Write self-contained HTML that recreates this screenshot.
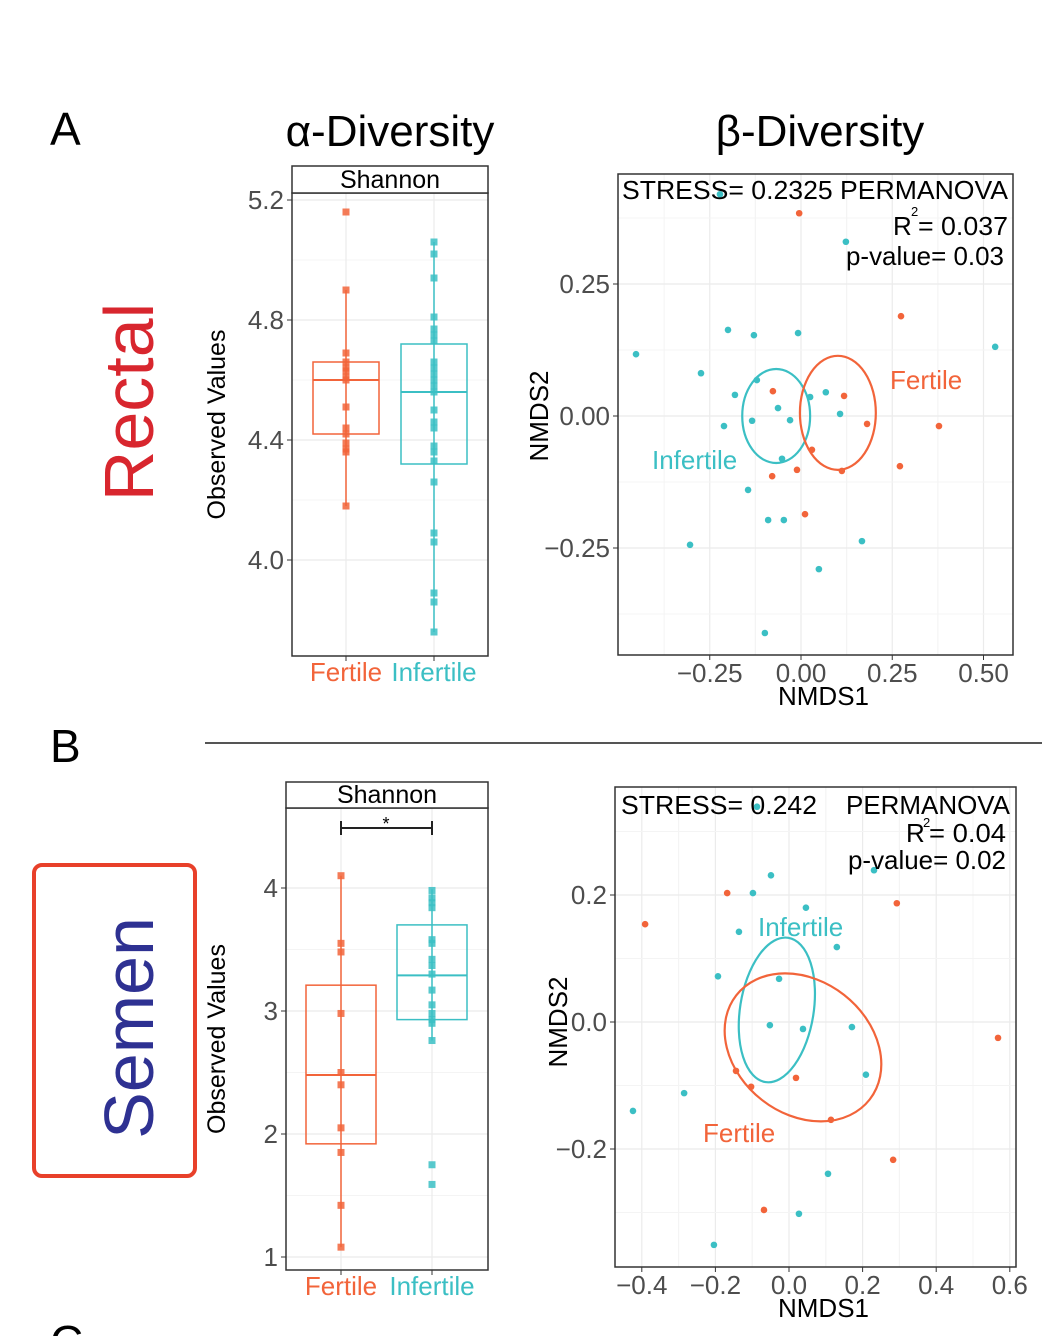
<!DOCTYPE html>
<html><head><meta charset="utf-8"><style>
html,body{margin:0;padding:0;background:#fff;}
svg{display:block;font-family:"Liberation Sans",sans-serif;}
</style></head><body>
<svg id="fig" width="1042" height="1336" viewBox="0 0 1042 1336" xmlns="http://www.w3.org/2000/svg">
<text x="50" y="145" font-size="46">A</text>
<text x="390" y="146" font-size="44" text-anchor="middle">α-Diversity</text>
<text x="820" y="146" font-size="44" text-anchor="middle">β-Diversity</text>
<text transform="translate(153,402) rotate(-90)" font-size="70" fill="#d8262e" text-anchor="middle">Rectal</text>
<text x="50" y="762" font-size="46">B</text>
<line x1="205" y1="743" x2="1042" y2="743" stroke="#555" stroke-width="2"/>
<rect x="34" y="865" width="161" height="311" rx="8" fill="none" stroke="#e8402a" stroke-width="4"/>
<text transform="translate(153,1028) rotate(-90)" font-size="70" fill="#2e3192" text-anchor="middle">Semen</text>
<text x="50" y="1358" font-size="46">C</text>
<g id="layer"></g>
</svg>
<script>
// ---- Data: A alpha (Rectal, Shannon) ----
const aGroups = ["Fertile", "Infertile"];
const aFertile = [5.16,4.90,4.69,4.66,4.64,4.63,4.61,4.60,4.51,4.44,4.42,4.39,4.37,4.36,4.18];
const aInfertile = [5.06,5.02,4.94,4.81,4.77,4.75,4.73,4.66,4.64,4.62,4.60,4.58,4.56,4.50,4.46,4.44,4.38,4.36,4.33,4.26,4.09,4.06,3.89,3.86,3.76];
const aFertileStats = [4.18,4.42,4.60,4.66,4.90]; // lo, q1, med, q3, hi
const aInfertileStats = [3.76,4.32,4.56,4.72,5.06];
const aTicks = [4.0,4.4,4.8,5.2];
// ---- Data: B alpha (Semen, Shannon) ----
const bFertile = [4.10,3.55,3.48,2.98,2.50,2.40,2.05,1.85,1.42,1.08];
const bInfertile = [3.98,3.92,3.88,3.84,3.58,3.55,3.42,3.37,3.30,3.17,3.05,2.98,2.93,2.90,2.76,1.75,1.59];
const bFertileStats = [1.08,1.92,2.48,3.21,4.10];
const bInfertileStats = [2.76,2.93,3.29,3.70,3.99];
const bTicks = [1,2,3,4];
// ---- Data: A beta (Rectal NMDS) ----
const rTealX = [-0.452,-0.274,-0.200,-0.129,-0.008,0.532,-0.181,-0.121,-0.063,-0.134,-0.211,-0.030,0.025,0.068,0.107,-0.052,-0.145,-0.090,-0.047,-0.304,0.167,0.049,-0.099,0.123,-0.222];
const rTealY = [0.117,0.081,0.163,0.153,0.157,0.131,0.040,0.068,0.015,-0.009,-0.019,-0.008,0.036,0.045,0.004,-0.081,-0.140,-0.197,-0.197,-0.244,-0.237,-0.290,-0.411,0.330,0.420];
const rOrX = [-0.005,0.274,0.378,0.181,0.118,0.030,0.112,0.271,-0.079,-0.011,0.011,-0.077];
const rOrY = [0.384,0.189,-0.019,-0.015,0.038,-0.064,-0.104,-0.095,-0.114,-0.102,-0.186,0.047];
const rXTicks = [-0.25,0.00,0.25,0.50];
const rYTicks = [-0.25,0.00,0.25];
const rEllTeal = [-0.068,0.0,0.093,0.089];
const rEllOr = [0.101,0.006,0.104,0.108];
// ---- Data: B beta (Semen NMDS) ----
const sTealX = [-0.087,-0.049,-0.098,0.046,-0.136,0.130,-0.193,-0.027,-0.052,0.038,0.171,0.209,-0.285,-0.424,0.106,0.027,-0.204,0.231];
const sTealY = [0.339,0.231,0.203,0.180,0.142,0.118,0.072,0.068,-0.005,-0.011,-0.008,-0.083,-0.112,-0.140,-0.239,-0.302,-0.351,0.239];
const sOrX = [-0.168,-0.391,0.293,-0.144,-0.103,0.019,0.114,0.283,-0.068,0.568];
const sOrY = [0.203,0.154,0.187,-0.077,-0.102,-0.088,-0.154,-0.217,-0.296,-0.025];
const sXTicks = [-0.4,-0.2,0.0,0.2,0.4,0.6];
const sYTicks = [-0.2,0.0,0.2];
const sEllTeal = [-0.033,0.019,0.1,0.115];
const sEllOr = [0.038,-0.040,0.23,0.105];

const NS="http://www.w3.org/2000/svg";
const layer=document.getElementById('layer');
const OR="#f2643a", TE="#3bbfc4";
const FS=26;
function mk(tag,attrs,parent){const e=document.createElementNS(NS,tag);for(const k in attrs)e.setAttribute(k,attrs[k]);(parent||layer).appendChild(e);return e;}
function txt(s,attrs,parent){const e=mk('text',attrs,parent);e.textContent=s;return e;}

function boxPanel(o){
  const g=mk('g',{});
  
  
  const y=v=>o.y0+(v-o.v0)*o.k;
  for(let i=0;i<o.ticks.length;i++){
    const t=o.ticks[i];
    const gl=mk('line',{x1:o.x1,x2:o.x2,y1:y(t),y2:y(t),stroke:"#ebebeb","stroke-width":1.2},g);
    
    
    if(i<o.ticks.length-1){const m=(t+o.ticks[i+1])/2;mk('line',{x1:o.x1,x2:o.x2,y1:y(m),y2:y(m),stroke:"#f4f4f4","stroke-width":1},g);}
    const tl=txt(o.fmt(t),{x:o.x1-8,y:y(t)+9,"font-size":FS,fill:"#4d4d4d","text-anchor":"end"},g);
    
    
    mk('line',{x1:o.x1-5,x2:o.x1,y1:y(t),y2:y(t),stroke:"#333","stroke-width":1},g);
  }
  const groups=[[o.fx,o.fStats,o.fPts,OR,"Fertile"],[o.ix,o.iStats,o.iPts,TE,"Infertile"]];
  groups.forEach(([cx,st,pts,col,lab])=>{
    mk('line',{x1:cx,x2:cx,y1:o.top,y2:o.y2,stroke:"#ebebeb","stroke-width":1.2},g);
    const w=mk('line',{x1:cx,x2:cx,y1:y(st[0]),y2:y(st[4]),stroke:col,"stroke-width":1.5},g);
    
    
    const b=mk('rect',{x:cx-o.bw/2,y:y(st[3]),width:o.bw,height:y(st[1])-y(st[3]),fill:"none",stroke:col,"stroke-width":1.5},g);
    
    
    const md=mk('line',{x1:cx-o.bw/2,x2:cx+o.bw/2,y1:y(st[2]),y2:y(st[2]),stroke:col,"stroke-width":2},g);
    
    
    pts.forEach(v=>{
      const p=mk('rect',{x:cx-3.5,y:y(v)-3.5,width:7,height:7,fill:col,opacity:0.85},g);
      
      
    });
    mk('line',{x1:cx,x2:cx,y1:o.y2,y2:o.y2+5,stroke:"#333","stroke-width":1},g);
    const l=txt(lab,{x:cx,y:o.y2+25,"font-size":FS,fill:col,"text-anchor":"middle"},g);
    
    
  });
  mk('rect',{x:o.x1,y:o.top,width:o.x2-o.x1,height:o.y2-o.top,fill:"none",stroke:"#333","stroke-width":1.5},g);
  const s=mk('rect',{x:o.x1,y:o.strip,width:o.x2-o.x1,height:o.top-o.strip,fill:"#fff",stroke:"#333","stroke-width":1.5},g);
  
  
  txt("Shannon",{x:(o.x1+o.x2)/2,y:o.top-5,"font-size":25,"text-anchor":"middle"},g);
  const yt=txt("Observed Values",{transform:`translate(${o.ytx},${(o.top+o.y2)/2}) rotate(-90)`,"font-size":25,"text-anchor":"middle"},g);
  
  
  return g;
}
boxPanel({name:"rectal-alpha-boxplot",x1:292,x2:488,strip:166,top:193,y2:656,y0:560,v0:4.0,k:-300,ticks:aTicks,fmt:t=>t.toFixed(1),fx:346,ix:434,bw:66,fStats:aFertileStats,iStats:aInfertileStats,fPts:aFertile,iPts:aInfertile,ytx:225});
const bg=boxPanel({name:"semen-alpha-boxplot",x1:286,x2:488,strip:782,top:808,y2:1270,y0:1257,v0:1,k:-123,ticks:bTicks,fmt:t=>String(t),fx:341,ix:432,bw:70,fStats:bFertileStats,iStats:bInfertileStats,fPts:bFertile,iPts:bInfertile,ytx:225});
const br=mk('path',{d:"M341 821 V835 M341 828 H432 M432 821 V835",stroke:"#222","stroke-width":2,fill:"none"},bg);


txt("*",{x:386,y:830,"font-size":18,"text-anchor":"middle"},bg);

function scatter(o){
  const g=mk('g',{});
  
  
  const X=v=>o.cx+v*o.kx, Y=v=>o.cy-v*o.ky;
  const xs=o.xt, ys=o.yt;
  for(let i=0;i<xs.length;i++){
    mk('line',{x1:X(xs[i]),x2:X(xs[i]),y1:o.y1,y2:o.y2,stroke:"#ebebeb","stroke-width":1.2},g);
    const d=xs.length>1?(xs[1]-xs[0])/2:0;
    [xs[i]-d,xs[i]+d].forEach(m=>{if(X(m)>o.x1&&X(m)<o.x2)mk('line',{x1:X(m),x2:X(m),y1:o.y1,y2:o.y2,stroke:"#f4f4f4","stroke-width":1},g);});
    mk('line',{x1:X(xs[i]),x2:X(xs[i]),y1:o.y2,y2:o.y2+5,stroke:"#333"},g);
    const t=txt(o.fx(xs[i]),{x:X(xs[i]),y:o.y2+27,"font-size":FS,fill:"#4d4d4d","text-anchor":"middle"},g);
    
    
  }
  for(let i=0;i<ys.length;i++){
    mk('line',{x1:o.x1,x2:o.x2,y1:Y(ys[i]),y2:Y(ys[i]),stroke:"#ebebeb","stroke-width":1.2},g);
    const d=(ys[1]-ys[0])/2;
    [ys[i]-d,ys[i]+d].forEach(m=>{if(Y(m)>o.y1&&Y(m)<o.y2)mk('line',{x1:o.x1,x2:o.x2,y1:Y(m),y2:Y(m),stroke:"#f4f4f4","stroke-width":1},g);});
    mk('line',{x1:o.x1-5,x2:o.x1,y1:Y(ys[i]),y2:Y(ys[i]),stroke:"#333"},g);
    const t=txt(o.fy(ys[i]),{x:o.x1-8,y:Y(ys[i])+9,"font-size":FS,fill:"#4d4d4d","text-anchor":"end"},g);
    
    
  }
  const ell=(e,col,rot,nm)=>{const el=mk('ellipse',{cx:X(e[0]),cy:Y(e[1]),rx:e[2]*o.kx,ry:e[3]*o.ky,fill:"none",stroke:col,"stroke-width":2.2,transform:`rotate(${rot} ${X(e[0])} ${Y(e[1])})`},g);
    
    };
  ell(o.eT,TE,o.rT,'ellipse-infertile');
  ell(o.eO,OR,o.rO,'ellipse-fertile');
  o.tx.forEach((v,i)=>{const c=mk('circle',{cx:X(v),cy:Y(o.ty[i]),r:3.3,fill:TE},g);
    
    });
  o.ox.forEach((v,i)=>{const c=mk('circle',{cx:X(v),cy:Y(o.oy[i]),r:3.3,fill:OR},g);
    
    });
  mk('rect',{x:o.x1,y:o.y1,width:o.x2-o.x1,height:o.y2-o.y1,fill:"none",stroke:"#333","stroke-width":1.5},g);
  const xt=txt("NMDS1",{x:(o.x1+o.x2)/2+8,y:o.y2+50,"font-size":FS,"text-anchor":"middle"},g);
  
  
  const yt=txt("NMDS2",{transform:`translate(${o.ytx},${o.cy}) rotate(-90)`,"font-size":FS,"text-anchor":"middle"},g);
  
  
  return g;
}
const rg=scatter({name:"rectal-beta-nmds",x1:618,x2:1013,y1:174,y2:655,cx:801,cy:416,kx:365,ky:528,xt:rXTicks,yt:rYTicks,fx:v=>(v<0?"\u2212":"")+Math.abs(v).toFixed(2),fy:v=>(v<0?"\u2212":"")+Math.abs(v).toFixed(2),tx:rTealX,ty:rTealY,ox:rOrX,oy:rOrY,eT:rEllTeal,eO:rEllOr,rT:0,rO:0,ytx:548});
txt("STRESS= 0.2325 PERMANOVA",{x:622,y:199,"font-size":FS,textLength:386,lengthAdjust:"spacingAndGlyphs"},rg);
txt("R",{x:893,y:235,"font-size":FS},rg);txt("2",{x:911,y:216,"font-size":13},rg);txt("= 0.037",{x:918,y:235,"font-size":FS,textLength:90,lengthAdjust:"spacingAndGlyphs"},rg);
txt("p-value= 0.03",{x:846,y:265,"font-size":FS,textLength:158,lengthAdjust:"spacingAndGlyphs"},rg);
txt("Fertile",{x:890,y:389,"font-size":FS,fill:OR},rg);
txt("Infertile",{x:652,y:469,"font-size":FS,fill:TE},rg);

const sg=scatter({name:"semen-beta-nmds",x1:615,x2:1016,y1:787,y2:1267,cx:789,cy:1022,kx:368,ky:635,xt:sXTicks,yt:sYTicks,fx:v=>(v<0?"\u2212":"")+Math.abs(v).toFixed(1),fy:v=>(v<0?"\u2212":"")+Math.abs(v).toFixed(1),tx:sTealX,ty:sTealY,ox:sOrX,oy:sOrY,eT:sEllTeal,eO:sEllOr,rT:9,rO:38,ytx:567});
txt("STRESS= 0.242",{x:621,y:814,"font-size":FS,textLength:196,lengthAdjust:"spacingAndGlyphs"},sg);
txt("PERMANOVA",{x:846,y:814,"font-size":FS,textLength:164,lengthAdjust:"spacingAndGlyphs"},sg);
txt("R",{x:906,y:842,"font-size":FS},sg);txt("2",{x:923,y:827,"font-size":13},sg);txt("= 0.04",{x:929,y:842,"font-size":FS,textLength:77,lengthAdjust:"spacingAndGlyphs"},sg);
txt("p-value= 0.02",{x:848,y:869,"font-size":FS,textLength:158,lengthAdjust:"spacingAndGlyphs"},sg);
txt("Infertile",{x:758,y:936,"font-size":FS,fill:TE},sg);
txt("Fertile",{x:703,y:1142,"font-size":FS,fill:OR},sg);
</script>
</body></html>
